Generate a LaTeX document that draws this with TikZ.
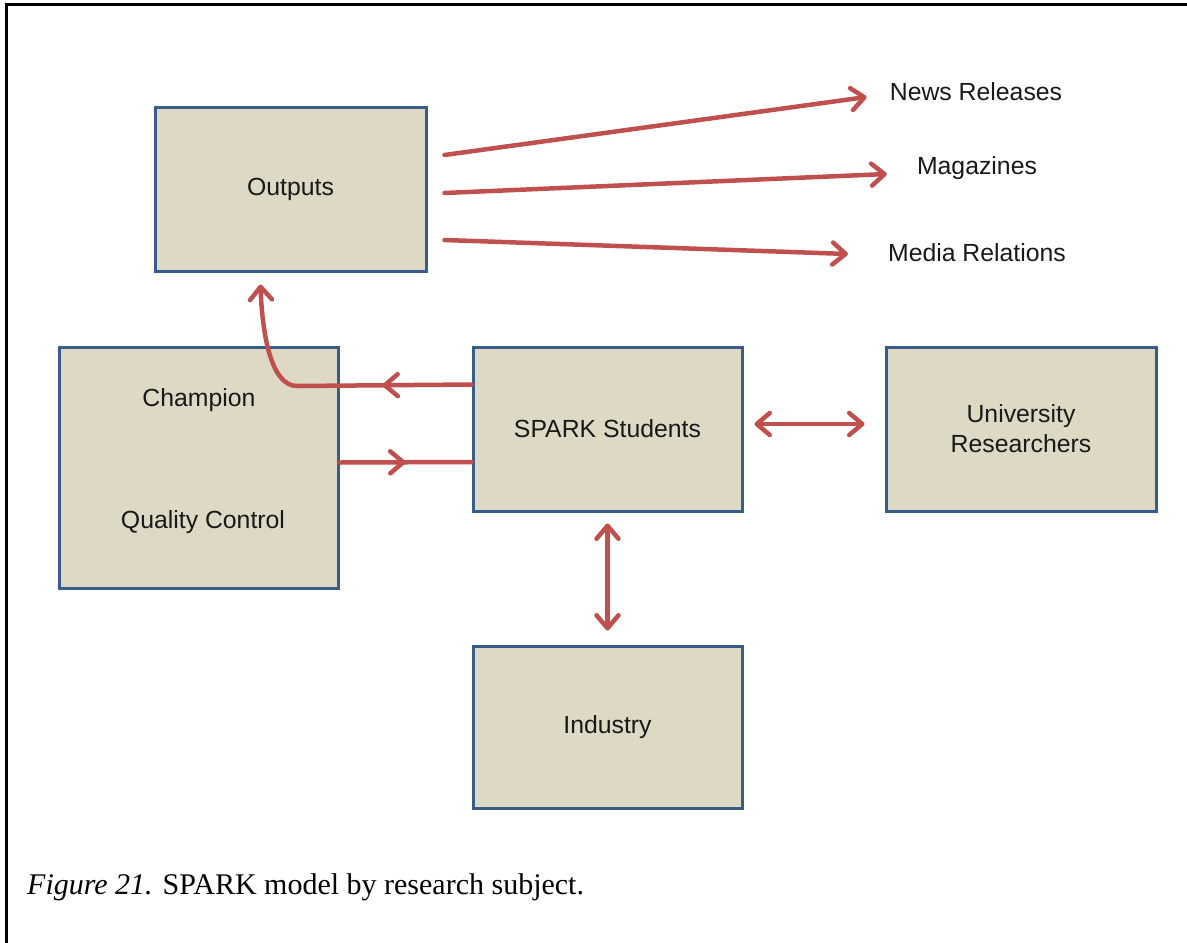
\documentclass[tikz,border=0pt]{standalone}
\usepackage{fontspec}
\setmainfont{Liberation Serif}
\setsansfont{Liberation Sans}
\usetikzlibrary{arrows.meta,calc,decorations.markings}
\definecolor{boxfill}{HTML}{DDD9C4}
\definecolor{boxline}{HTML}{385D8A}
\definecolor{arrowred}{HTML}{C0504D}
\tikzset{redbarb/.tip={Straight Barb[length=13pt,width=22pt,round]}}
\begin{document}
\begin{tikzpicture}[x=1pt,y=-1pt,
  block/.style={draw=boxline, fill=boxfill, line width=3pt, rectangle, inner sep=0pt,
    font=\fontsize{24.8}{30}\sffamily, text=black!90, align=center},
  lbl/.style={font=\fontsize{24.8}{30}\sffamily, text=black!90, inner sep=0pt, align=center},
  conn/.style={draw=arrowred, line width=4.5pt, line cap=round},
  tipend/.style={-redbarb},
  tipboth/.style={redbarb-redbarb},
  midtip/.style={postaction={decorate}, decoration={markings,
    mark=at position #1 with {\arrow{redbarb}}}},
]
\useasboundingbox (0,0) rectangle (1187,943);
% page frame
\draw[line width=3pt] (6,943) -- (6,4) -- (1187,4);

% boxes
\node[block, minimum width=271pt, minimum height=164pt] (out) at (290.5,189) {Outputs};
\node[block, minimum width=279pt, minimum height=241pt] (champbox) at (198.5,467.5) {};
\node[block, minimum width=269pt, minimum height=164pt] (spark) at (607.5,429) {SPARK Students};
\node[block, minimum width=270pt, minimum height=164pt] (univ) at (1021,429) {University\\Researchers};
\node[block, minimum width=269pt, minimum height=162pt] (ind) at (607.5,727) {Industry};

% texts in the left box
\node[lbl] (champ) at (199,400) {Champion};
\node[lbl] (qc) at (203,522) {Quality Control};

% output labels
\node[lbl] (nr) at (976,92) {News Releases};
\node[lbl] (mag) at (977,168) {Magazines};
\node[lbl] (med) at (977,253) {Media Relations};

% caption
\node[anchor=base west, inner sep=0pt, font=\fontsize{30}{36}\selectfont] (cap) at (27,894)
  {\textit{Figure 21.} SPARK model by research subject.};

% output arrows
\coordinate (o1) at ($(out.east)+(17,-34)$);
\coordinate (o2) at ($(out.east)+(17,4)$);
\coordinate (o3) at ($(out.east)+(17,51)$);
\draw[conn,tipend] (o1) -- ($(nr.west)+(-23,5)$);
\draw[conn,tipend] (o2) -- ($(mag.west)+(-30,6)$);
\draw[conn,tipend] (o3) -- ($(med.west)+(-40,1)$);

% students back to the left box and up to outputs
\draw[conn,tipend,midtip=89pt] ($(spark.north west)+(0,39)$) -- (297,386)
  .. controls (270,386) and (262,330) .. ($(out.south west)+(107,12)$);
% left box to students
\draw[conn,midtip=0.5] ($(champbox.east)+(0,-5)$) -- ($(spark.west)+(0,33)$);

% two-way links
\draw[conn,tipboth,shorten <=11pt,shorten >=20pt] ($(spark.east)+(0,-5)$) -- ($(univ.west)+(0,-5)$);
\draw[conn,tipboth,shorten <=11pt,shorten >=14pt] (spark.south) -- (ind.north);
\end{tikzpicture}
\end{document}
